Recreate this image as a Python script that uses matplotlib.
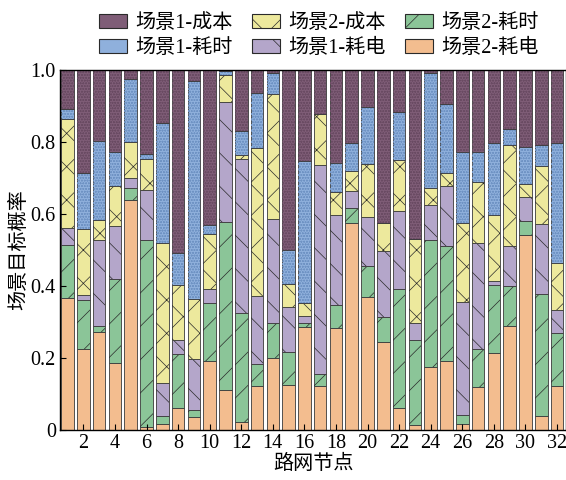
import numpy as np
import matplotlib
matplotlib.use("Agg")
import matplotlib.pyplot as plt
from matplotlib.patches import Patch

plt.rcParams['font.family'] = ['Liberation Serif', 'Noto Sans CJK SC']
plt.rcParams['hatch.linewidth'] = 0.5
plt.rcParams['axes.unicode_minus'] = False

# 路网节点
nodes = list(range(1, 33))

# 各场景目标概率 (从下到上堆叠)
s2_power = [0.367, 0.225, 0.272, 0.186, 0.638, 0.007, 0.017, 0.061, 0.037, 0.193, 0.111, 0.023, 0.121, 0.200, 0.126, 0.286,
            0.122, 0.283, 0.576, 0.369, 0.244, 0.060, 0.014, 0.176, 0.191, 0.017, 0.119, 0.214, 0.290, 0.541, 0.038, 0.123]
s2_time = [0.146, 0.137, 0.016, 0.234, 0.033, 0.522, 0.022, 0.149, 0.019, 0.160, 0.467, 0.303, 0.063, 0.098, 0.092, 0.011,
           0.034, 0.065, 0.042, 0.086, 0.071, 0.332, 0.235, 0.351, 0.320, 0.026, 0.106, 0.190, 0.110, 0.040, 0.340, 0.146]
s1_power = [0.048, 0.014, 0.239, 0.146, 0.030, 0.139, 0.091, 0.039, 0.142, 0.039, 0.332, 0.426, 0.189, 0.287, 0.125, 0.019,
            0.581, 0.248, 0.046, 0.137, 0.181, 0.216, 0.049, 0.099, 0.167, 0.312, 0.294, 0.010, 0.111, 0.065, 0.195, 0.065]
s2_cost = [0.304, 0.182, 0.057, 0.112, 0.098, 0.084, 0.389, 0.155, 0.167, 0.152, 0.077, 0.012, 0.409, 0.348, 0.063, 0.037,
           0.142, 0.065, 0.055, 0.148, 0.080, 0.142, 0.232, 0.045, 0.036, 0.220, 0.170, 0.184, 0.282, 0.037, 0.161, 0.130]
s1_time = [0.028, 0.156, 0.219, 0.095, 0.175, 0.015, 0.334, 0.088, 0.605, 0.026, 0.010, 0.066, 0.155, 0.060, 0.093, 0.395,
           0.000, 0.082, 0.077, 0.158, 0.000, 0.134, 0.000, 0.322, 0.191, 0.196, 0.084, 0.198, 0.042, 0.104, 0.059, 0.332]
s1_cost = [0.107, 0.286, 0.197, 0.227, 0.026, 0.233, 0.147, 0.508, 0.030, 0.430, 0.003, 0.170, 0.063, 0.007, 0.501, 0.252,
           0.121, 0.257, 0.204, 0.102, 0.424, 0.116, 0.470, 0.007, 0.095, 0.229, 0.227, 0.204, 0.165, 0.213, 0.207, 0.204]

# 名称, 数据, 填充色, 花纹, 花纹颜色
series = [
    ("场景2-耗电", s2_power, "#f3bd8f", "", None),
    ("场景2-耗时", s2_time, "#8bc598", "/", "#2a2a2a"),
    ("场景1-耗电", s1_power, "#b4a6ca", "\\", "#2a2a2a"),
    ("场景2-成本", s2_cost, "#ede99d", "x", "#2a2a2a"),
    ("场景1-耗时", s1_time, "#8fb0dc", "oooooo", "#6f93c4"),
    ("场景1-成本", s1_cost, "#7f5d77", "oooooo", "#6a4b63"),
]

fig = plt.figure(figsize=(5.66, 4.8), dpi=100)
ax = fig.add_axes([60 / 566, 50 / 480, 506 / 566, 360 / 480])

bottom = np.zeros(len(nodes))
for name, vals, color, hatch, hcolor in series:
    vals = np.array(vals)
    ax.bar(nodes, vals, width=0.8, bottom=bottom, color=color,
           edgecolor="#3a3a3a", linewidth=0.6, label=name)
    if hatch:
        ax.bar(nodes, vals, width=0.8, bottom=bottom, fill=False, hatch=hatch,
               edgecolor=hcolor, linewidth=0)
    bottom += vals

ax.set_xlim(0.52, 32.57)
ax.set_ylim(0, 1.0)
ax.set_xticks(range(2, 33, 2))
ax.set_yticks([0, 0.2, 0.4, 0.6, 0.8, 1.0])
ax.set_yticklabels(["0", "0.2", "0.4", "0.6", "0.8", "1.0"])
ax.tick_params(direction="in", length=4, labelsize=14.5, width=0.8, pad=3)
for s in ax.spines.values():
    s.set_linewidth(1.0)

ax.set_xlabel("路网节点", fontsize=14.5, labelpad=1)
ax.set_ylabel("场景目标概率", fontsize=14.5, labelpad=1)

# 图例: 按行排列 (成本/耗时/耗电)
leg_map = {}
for name, vals, color, hatch, hcolor in series:
    leg_map[name] = Patch(facecolor=color, edgecolor="#2a2a2a", linewidth=0.8,
                          hatch=hatch if hatch in ("/", "\\", "x") else "")
order = ["场景1-成本", "场景1-耗时", "场景2-成本", "场景1-耗电", "场景2-耗时", "场景2-耗电"]
fig.legend([leg_map[k] for k in order], order, ncol=3, loc="upper center",
           bbox_to_anchor=(0.563, 1.0), frameon=False, fontsize=14.5,
           handlelength=1.4, handleheight=0.65, columnspacing=0.95, labelspacing=0.3,
           handletextpad=0.4, borderaxespad=0.3)

fig.savefig("out.png", dpi=100)
